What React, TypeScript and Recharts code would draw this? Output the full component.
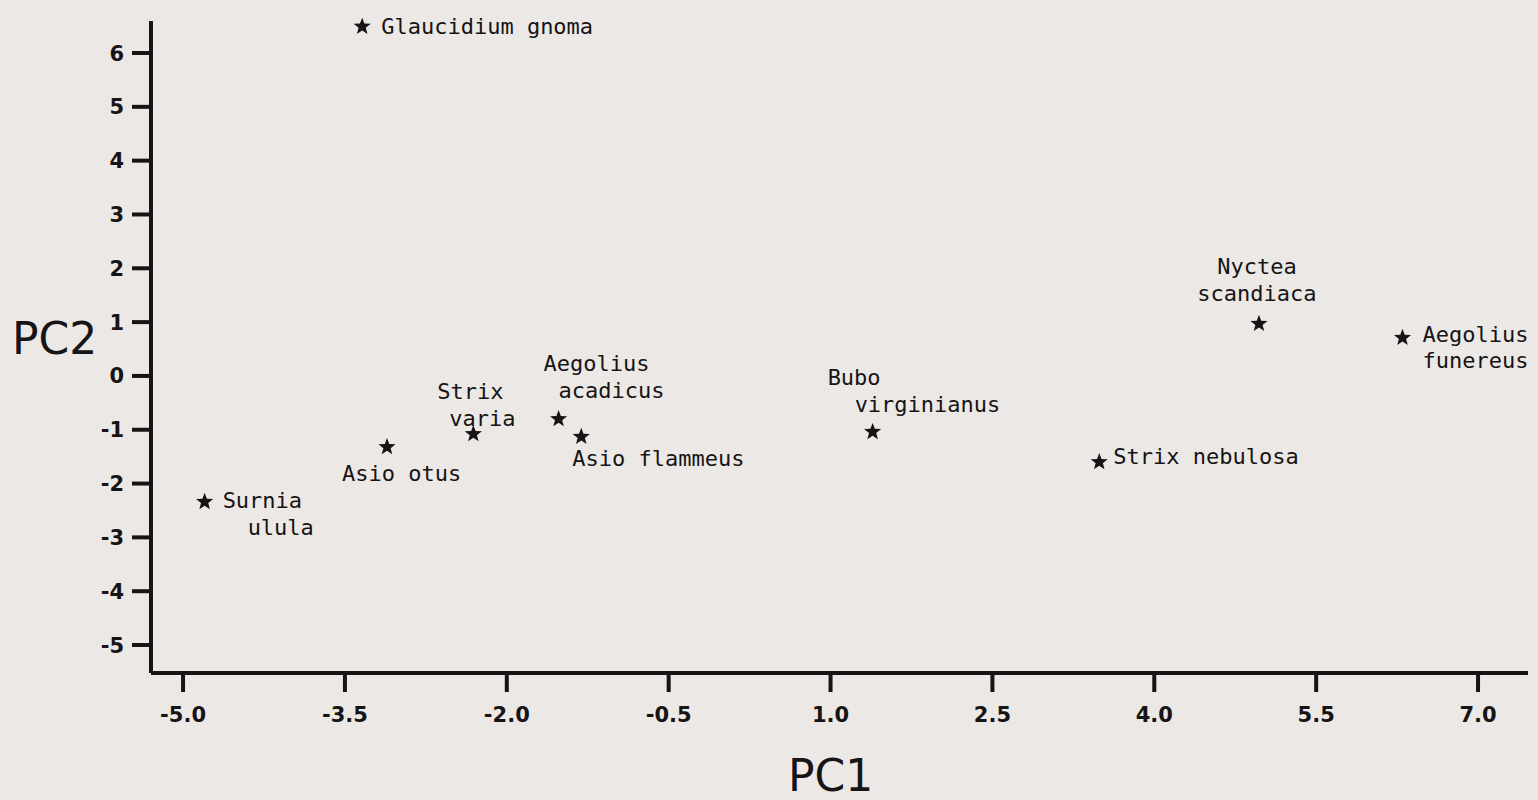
import { ScatterChart, Scatter, XAxis, YAxis, Label } from 'recharts';

const speciesNames = [
  'Glaucidium gnoma',
  'Surnia ulula',
  'Asio otus',
  'Strix varia',
  'Aegolius acadicus',
  'Asio flammeus',
  'Bubo virginianus',
  'Strix nebulosa',
  'Nyctea scandiaca',
  'Aegolius funereus',
];
const pc1Scores = [-3.34, -4.8, -3.11, -2.31, -1.52, -1.31, 1.39, 3.49, 4.97, 6.3];
const pc2Scores = [6.49, -2.34, -1.32, -1.08, -0.8, -1.13, -1.04, -1.6, 0.97, 0.71];

const xTicks = [-5, -3.5, -2, -0.5, 1, 2.5, 4, 5.5, 7];
const yTicks = [-5, -4, -3, -2, -1, 0, 1, 2, 3, 4, 5, 6];

// where each name sits around its star (one entry per printed line)
const labelLayout: Record<string, { anchor: 'start' | 'middle'; at: [number, number][] }> = {
  'Glaucidium gnoma': { anchor: 'start', at: [[19, 7]] },
  'Surnia ulula': { anchor: 'start', at: [[18, 6], [43, 33]] },
  'Asio otus': { anchor: 'start', at: [[-45, 34]] },
  'Strix varia': { anchor: 'start', at: [[-36, -35], [-24, -8]] },
  'Aegolius acadicus': { anchor: 'start', at: [[-15, -48], [0, -21]] },
  'Asio flammeus': { anchor: 'start', at: [[-9, 29]] },
  'Bubo virginianus': { anchor: 'start', at: [[-45, -47], [-18, -20]] },
  'Strix nebulosa': { anchor: 'start', at: [[14, 2]] },
  'Nyctea scandiaca': { anchor: 'middle', at: [[-2, -50], [-2, -23]] },
  'Aegolius funereus': { anchor: 'start', at: [[20, 4], [20, 30]] },
};

const points = speciesNames.map((name, i) => ({ name, pc1: pc1Scores[i], pc2: pc2Scores[i] }));

const ink = '#161414';
const sans = '"DejaVu Sans", sans-serif';

function starPath(cx: number, cy: number, r: number) {
  const inner = r * 0.42;
  let d = '';
  for (let k = 0; k < 10; k++) {
    const rad = k % 2 === 0 ? r : inner;
    const a = -Math.PI / 2 + (k * Math.PI) / 5;
    d += `${k === 0 ? 'M' : 'L'}${cx + rad * Math.cos(a)},${cy + rad * Math.sin(a)}`;
  }
  return d + 'Z';
}

function OwlMark(props: any) {
  const { cx, cy, payload } = props;
  const layout = labelLayout[payload.name];
  const lines = layout.at.length === 1 ? [payload.name] : payload.name.split(' ');
  return (
    <g>
      <path d={starPath(cx, cy, 9)} fill={ink} />
      {lines.map((t: string, j: number) => (
        <text
          key={t}
          x={cx + layout.at[j][0]}
          y={cy + layout.at[j][1]}
          textAnchor={layout.anchor}
          fontFamily='"DejaVu Sans Mono", monospace'
          fontSize={22}
          fill={ink}
        >
          {t}
        </text>
      ))}
    </g>
  );
}

const XTick = (p: any) => (
  <text x={p.x} y={p.y} dy="0.75em" textAnchor="middle" fontFamily={sans} fontSize={21} fontWeight="bold" fill={ink}>
    {Number(p.payload.value).toFixed(1)}
  </text>
);

const YTick = (p: any) => (
  <text x={p.x} y={p.y} dy="0.36em" textAnchor="end" fontFamily={sans} fontSize={21} fontWeight="bold" fill={ink}>
    {p.payload.value}
  </text>
);

export default function App() {
  return (
    <div style={{ position: 'absolute', left: 0, top: 0, width: 1538, height: 800, background: '#ece8e6' }}>
      <ScatterChart width={1538} height={800} margin={{ top: 21, right: 10, bottom: 67, left: 0 }}>
        <XAxis
          type="number"
          dataKey="pc1"
          domain={[-5.297, 7.463]}
          ticks={xTicks}
          height={60}
          tickSize={19}
          tickMargin={14}
          axisLine={{ stroke: ink, strokeWidth: 4 }}
          tickLine={{ stroke: ink, strokeWidth: 4 }}
          tick={XTick}
        >
          <Label
            value="PC1"
            position="bottom"
            offset={27}
            dx={-9}
            style={{ fontFamily: sans, fontSize: 44, fill: ink }}
          />
        </XAxis>
        <YAxis
          type="number"
          dataKey="pc2"
          domain={[-5.52, 6.595]}
          ticks={yTicks}
          width={151}
          tickSize={19}
          tickMargin={8}
          axisLine={{ stroke: ink, strokeWidth: 4 }}
          tickLine={{ stroke: ink, strokeWidth: 4 }}
          tick={YTick}
        >
          <Label
            value="PC2"
            position="insideLeft"
            offset={12}
            dy={-9}
            style={{ fontFamily: sans, fontSize: 44, fill: ink }}
          />
        </YAxis>
        <Scatter data={points} shape={OwlMark} isAnimationActive={false} />
      </ScatterChart>
    </div>
  );
}
